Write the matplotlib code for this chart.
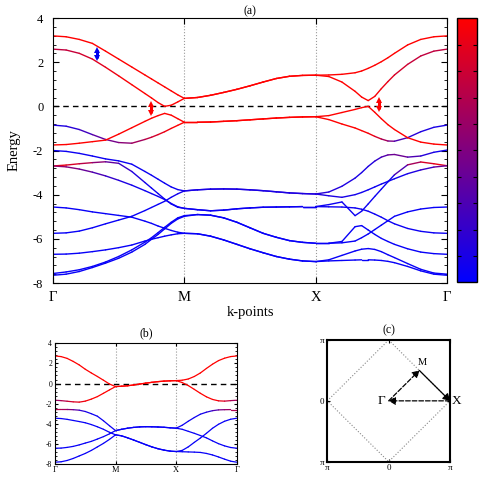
import numpy as np
import matplotlib
matplotlib.use('Agg')
import matplotlib.pyplot as plt
from matplotlib.collections import LineCollection
from matplotlib.colors import LinearSegmentedColormap
from matplotlib.ticker import MultipleLocator

plt.rcParams['font.family'] = ['Liberation Serif', 'DejaVu Serif']
plt.rcParams['axes.unicode_minus'] = False

# ---------------- panel (a) data ----------------
# k path: Gamma-M, M-X, X-Gamma
k_gm = [0, .1, .2, .3, .4, .5, .6, .7, .75, .8, .85, .9, .95, 1.0]
k_mx = [1.1, 1.2, 1.3, 1.4, 1.5, 1.6, 1.7, 1.8, 1.9, 2.0]
k_xg = [2.1, 2.2, 2.3, 2.35, 2.4, 2.45, 2.5, 2.55, 2.6, 2.7, 2.8, 2.9, 3.0]
k_a = k_gm + k_mx + k_xg

a_b1 = [3.19, 3.15, 3.03, 2.85, 2.5, 2.14, 1.78, 1.42, 1.24, 1.06, 0.88, 0.7, 0.52, 0.36] \
     + [0.4, 0.5, 0.63, 0.77, 0.93, 1.1, 1.26, 1.36, 1.4, 1.41] \
     + [1.42, 1.45, 1.52, 1.6, 1.72, 1.86, 2.02, 2.2, 2.4, 2.78, 3.03, 3.15, 3.19]
a_b2 = [2.59, 2.55, 2.4, 2.14, 1.77, 1.38, 0.98, 0.58, 0.38, 0.17, 0.0, 0.05, 0.2, 0.36] \
     + [0.4, 0.5, 0.63, 0.77, 0.93, 1.1, 1.26, 1.36, 1.4, 1.41] \
     + [1.35, 1.1, 0.68, 0.42, 0.26, 0.45, 0.8, 1.12, 1.42, 1.9, 2.28, 2.5, 2.59]
a_b3 = [-0.85, -0.9, -1.05, -1.28, -1.5, -1.64, -1.67, -1.5, -1.4, -1.28, -1.15, -1.0, -0.86, -0.72] \
     + [-0.72, -0.71, -0.68, -0.65, -0.61, -0.57, -0.53, -0.5, -0.48, -0.47] \
     + [-0.6, -0.8, -0.98, -1.1, -1.22, -1.36, -1.48, -1.57, -1.58, -1.42, -1.15, -0.95, -0.85]
a_b4 = [-1.75, -1.73, -1.67, -1.6, -1.53, -1.26, -0.97, -0.68, -0.54, -0.42, -0.32, -0.4, -0.56, -0.72] \
     + [-0.72, -0.71, -0.68, -0.65, -0.61, -0.57, -0.53, -0.5, -0.48, -0.47] \
     + [-0.42, -0.28, -0.14, -0.06, 0.0, -0.27, -0.56, -0.83, -1.05, -1.42, -1.62, -1.71, -1.75]
a_l1 = [-2.0, -2.04, -2.13, -2.25, -2.38, -2.47, -2.62, -2.95, -3.12, -3.3, -3.48, -3.65, -3.77, -3.83] \
     + [-3.78, -3.75, -3.74, -3.75, -3.78, -3.82, -3.87, -3.92, -3.95, -3.97] \
     + [-3.88, -3.62, -3.25, -3.0, -2.72, -2.48, -2.3, -2.2, -2.18, -2.3, -2.25, -2.08, -1.98]
a_l2 = [-2.7, -2.66, -2.6, -2.55, -2.51, -2.58, -2.95, -3.45, -3.7, -3.95, -4.2, -4.42, -4.57, -4.62] \
     + [-4.68, -4.73, -4.7, -4.64, -4.6, -4.57, -4.56, -4.55, -4.54, -4.54] \
     + [-4.45, -4.33, -4.95, -4.75, -4.42, -4.08, -3.75, -3.42, -3.1, -2.65, -2.52, -2.6, -2.69]
a_l3 = [-2.7, -2.74, -2.84, -2.98, -3.15, -3.35, -3.57, -3.82, -3.95, -4.08, -4.22, -4.4, -4.55, -4.62] \
     + [-4.68, -4.73, -4.7, -4.64, -4.6, -4.57, -4.56, -4.55, -4.54, -4.54] \
     + [-4.55, -4.56, -4.6, -4.66, -4.75, -4.88, -5.02, -5.18, -5.32, -5.53, -5.66, -5.73, -5.75]
a_l4 = [-4.56, -4.6, -4.68, -4.78, -4.86, -4.94, -5.02, -5.2, -5.3, -5.42, -5.52, -5.62, -5.7, -5.75] \
     + [-5.77, -5.88, -6.05, -6.25, -6.45, -6.63, -6.8, -6.92, -7.0, -7.03] \
     + [-6.95, -6.75, -6.55, -6.47, -6.44, -6.48, -6.58, -6.72, -6.85, -7.12, -7.38, -7.55, -7.6]
a_l5 = [-5.75, -5.73, -5.65, -5.5, -5.32, -5.15, -4.98, -4.72, -4.58, -4.44, -4.3, -4.12, -3.96, -3.83] \
     + [-3.78, -3.75, -3.74, -3.75, -3.78, -3.82, -3.87, -3.92, -3.95, -3.97] \
     + [-4.05, -4.12, -4.0, -3.9, -3.78, -3.65, -3.52, -3.4, -3.28, -3.05, -2.88, -2.75, -2.69]
a_l6 = [-6.7, -6.69, -6.65, -6.58, -6.5, -6.4, -6.28, -6.1, -6.02, -5.95, -5.88, -5.82, -5.77, -5.75] \
     + [-5.77, -5.88, -6.05, -6.25, -6.45, -6.63, -6.8, -6.92, -7.0, -7.03] \
     + [-7.0, -6.98, -6.96, -6.95, -6.95, -6.96, -6.98, -7.02, -7.08, -7.25, -7.45, -7.6, -7.65]
a_l7 = [-7.57, -7.5, -7.4, -7.25, -7.05, -6.8, -6.5, -6.15, -5.95, -5.72, -5.48, -5.25, -5.05, -4.95] \
     + [-4.9, -4.93, -5.05, -5.25, -5.5, -5.75, -5.93, -6.08, -6.16, -6.2] \
     + [-6.2, -6.12, -5.45, -5.4, -5.6, -5.8, -5.98, -6.12, -6.25, -6.45, -6.6, -6.67, -6.7]
a_l8 = [-7.65, -7.6, -7.48, -7.3, -7.1, -6.88, -6.6, -6.25, -6.02, -5.8, -5.55, -5.3, -5.1, -4.98] \
     + [-4.9, -4.93, -5.05, -5.25, -5.5, -5.75, -5.93, -6.08, -6.16, -6.2] \
     + [-6.2, -6.18, -6.1, -5.95, -5.78, -5.58, -5.38, -5.18, -4.98, -4.78, -4.65, -4.58, -4.56]

# orbital weight (0 = blue, 1 = red)
w_b1 = [1, 1, 1, 1, 1, 1, 1, 1, 1, 1, 1, 1, 1, 1] + [1, 1, 1, 1, 1, 1, 1, 1, 1, 1] \
     + [1, 1, 1, 1, 1, 1, 1, 1, 1, 1, 1, 1, 1]
w_b2 = [.75, .75, .8, .85, .9, .95, 1, 1, 1, 1, 1, 1, 1, 1] + [1, 1, 1, 1, 1, 1, 1, 1, 1, 1] \
     + [1, 1, 1, 1, 1, 1, .95, .9, .85, .8, .75, .75, .75]
w_b3 = [.1, .12, .2, .3, .42, .5, .58, .7, .78, .86, .92, .97, 1, 1] + [1, 1, 1, 1, 1, 1, 1, 1, 1, 1] \
     + [1, 1, 1, 1, .97, .9, .75, .55, .4, .2, .12, .1, .1]
w_b4 = [1, 1, 1, 1, 1, 1, 1, 1, 1, 1, 1, 1, 1, 1] + [1, 1, 1, 1, 1, 1, 1, 1, 1, 1] \
     + [1, 1, 1, 1, 1, 1, 1, 1, 1, 1, 1, 1, 1]
w_l1 = [.05, .05, .05, .05, .05, .05, .05, .05, .05, .05, .05, .05, .05, .08] \
     + [.1, .12, .13, .14, .15, .15, .15, .15, .15, .15] \
     + [.15, .12, .1, .1, .1, .15, .25, .4, .45, .4, .2, .08, .05]
w_l2 = [.95, .9, .8, .65, .45, .3, .15, .08, .05, .05, .05, .05, .05, .05] \
     + [.05, .05, .05, .05, .05, .05, .05, .05, .05, .05] \
     + [.05, .05, .05, .05, .05, .05, .05, .05, .1, .5, .8, .9, .95]
w_l3 = [.6, .55, .45, .35, .25, .15, .08, .05, .05, .05, .05, .05, .05, .05] \
     + [.05, .05, .05, .05, .05, .05, .05, .05, .05, .05] \
     + [.05, .05, .05, .05, .05, .05, .05, .05, .05, .05, .05, .05, .05]
w_l5 = [.03, .03, .03, .03, .03, .03, .03, .03, .03, .03, .03, .05, .08, .08] \
     + [.1, .1, .1, .1, .1, .1, .1, .12, .12, .12] \
     + [.12, .1, .08, .06, .05, .05, .05, .05, .05, .08, .15, .3, .5]
w_low = [.03, .03, .03, .03, .03, .03, .03, .03, .03, .03, .03, .03, .03, .03] \
      + [.03, .03, .03, .03, .03, .03, .03, .03, .03, .03] \
      + [.03, .03, .03, .03, .03, .03, .03, .03, .03, .03, .03, .03, .03]

bands_a = [(a_b1, w_b1), (a_b2, w_b2), (a_b3, w_b3), (a_b4, w_b4),
           (a_l1, w_l1), (a_l2, w_l2), (a_l3, w_l3), (a_l4, w_low),
           (a_l5, w_l5), (a_l6, w_low), (a_l7, w_low), (a_l8, w_low)]

# gap markers (k, lower E, upper E)
gap_blue = (0.335, 2.1, 2.64)
gap_red = [(0.745, -0.38, 0.18), (2.483, -0.22, 0.38)]

# ---------------- panel (b) data ----------------
k_b = [0, .1, .2, .3, .4, .5, .6, .7, .8, .9, 1.0,
       1.1, 1.2, 1.3, 1.4, 1.5, 1.6, 1.7, 1.8, 1.9, 2.0,
       2.1, 2.2, 2.3, 2.4, 2.5, 2.6, 2.7, 2.8, 2.9, 3.0]
b_1 = [2.74, 2.68, 2.5, 2.2, 1.85, 1.42, 1.05, 0.7, 0.33, -0.05, -0.3] \
    + [-0.27, -0.22, -0.14, -0.05, 0.04, 0.12, 0.19, 0.24, 0.27, 0.29] \
    + [0.33, 0.45, 0.7, 1.05, 1.5, 1.92, 2.28, 2.52, 2.68, 2.74]
b_2 = [-1.66, -1.7, -1.76, -1.82, -1.85, -1.75, -1.55, -1.3, -0.97, -0.63, -0.3] \
    + [-0.27, -0.22, -0.14, -0.05, 0.04, 0.12, 0.19, 0.24, 0.27, 0.29] \
    + [0.1, -0.2, -0.58, -0.97, -1.32, -1.58, -1.72, -1.75, -1.7, -1.66]
b_3 = [-2.59, -2.58, -2.58, -2.6, -2.65, -2.78, -3.0, -3.25, -3.7, -4.2, -4.68] \
    + [-4.55, -4.44, -4.36, -4.31, -4.29, -4.3, -4.32, -4.35, -4.4, -4.44] \
    + [-4.15, -3.75, -3.38, -3.05, -2.85, -2.7, -2.62, -2.6, -2.59, -2.59]
b_4 = [-3.45, -3.48, -3.56, -3.67, -3.78, -3.9, -4.08, -4.3, -4.55, -4.85, -5.1] \
    + [-5.2, -5.4, -5.62, -5.85, -6.08, -6.3, -6.48, -6.62, -6.72, -6.76] \
    + [-6.65, -6.3, -5.85, -5.42, -4.95, -4.45, -4.05, -3.75, -3.55, -3.45]
b_5 = [-6.43, -6.42, -6.35, -6.25, -6.1, -5.92, -5.75, -5.52, -5.28, -5.0, -4.68] \
    + [-4.55, -4.44, -4.36, -4.31, -4.29, -4.3, -4.32, -4.35, -4.4, -4.44] \
    + [-4.55, -4.75, -4.95, -5.17, -5.4, -5.7, -5.98, -6.2, -6.36, -6.43]
b_6 = [-7.82, -7.78, -7.65, -7.45, -7.2, -6.95, -6.65, -6.3, -5.95, -5.55, -5.1] \
    + [-5.2, -5.4, -5.62, -5.85, -6.08, -6.3, -6.48, -6.62, -6.72, -6.76] \
    + [-6.78, -6.8, -6.82, -6.85, -6.95, -7.1, -7.3, -7.52, -7.72, -7.82]

wb_1 = [1, 1, 1, 1, 1, 1, 1, 1, 1, 1, 1] + [1, 1, 1, 1, 1, 1, 1, 1, 1, 1] \
     + [1, 1, 1, 1, 1, 1, 1, 1, 1, 1]
wb_2 = [.6, .65, .75, .85, .9, .95, 1, 1, 1, 1, 1] + [1, 1, 1, 1, 1, 1, 1, 1, 1, 1] \
     + [1, 1, 1, 1, 1, 1, .95, .85, .7, .6]
wb_3 = [.75, .7, .6, .45, .25, .1, .05, .05, .05, .05, .05] \
     + [.05, .05, .05, .05, .05, .05, .05, .05, .05, .05] \
     + [.05, .05, .05, .05, .1, .2, .4, .55, .65, .72]
wb_low = [.03, .03, .03, .03, .03, .03, .03, .03, .03, .03, .03] \
       + [.03, .03, .03, .03, .03, .03, .03, .03, .03, .03] \
       + [.03, .03, .03, .03, .03, .03, .03, .03, .03, .03]

bands_b = [(b_1, wb_1), (b_2, wb_2), (b_3, wb_3), (b_4, wb_low), (b_5, wb_low), (b_6, wb_low)]

path_labels = ['Γ', 'M', 'X', 'Γ']

cmap = LinearSegmentedColormap.from_list('br', ['#0000ff', '#ff0000'])
norm = plt.Normalize(0, 1)


def draw_band(ax, k, e, w, lw=1.0):
    pts = np.column_stack([k, e])
    segs = np.stack([pts[:-1], pts[1:]], axis=1)
    w = np.asarray(w, dtype=float)
    lc = LineCollection(segs, cmap=cmap, norm=norm, linewidths=lw, capstyle='round')
    lc.set_array((w[:-1] + w[1:]) / 2)
    ax.add_collection(lc)


def setup_bands(ax, fs_y, fs_x, major_len, minor_len, pad_y, pad_x):
    ax.set_xlim(0, 3)
    ax.set_ylim(-8, 4)
    ax.set_xticks([0, 1, 2, 3])
    ax.set_xticklabels(path_labels)
    ax.set_yticks(range(-8, 5, 2))
    ax.yaxis.set_minor_locator(MultipleLocator(0.4))
    ax.tick_params(which='both', direction='in', top=True, right=True)
    ax.tick_params(which='major', length=major_len)
    ax.tick_params(which='minor', length=minor_len)
    ax.tick_params(axis='y', labelsize=fs_y, pad=pad_y)
    ax.tick_params(axis='x', labelsize=fs_x, pad=pad_x)
    for xv in (1, 2):
        ax.axvline(xv, color='#999999', ls=':', lw=0.8, zorder=0)
    ax.axhline(0, color='black', ls=(0, (4, 3)), lw=1.0, zorder=1)


def double_arrow(ax, x, y0, y1, color):
    # thick shaft with a triangular head at each end
    inset = 0.1
    ax.plot([x, x], [y0 + inset, y1 - inset], color=color, lw=2.2, solid_capstyle='butt', zorder=5)
    ax.plot([x], [y1 - 0.08], marker='^', ms=5, color=color, mew=0, zorder=5)
    ax.plot([x], [y0 + 0.08], marker='v', ms=5, color=color, mew=0, zorder=5)


fig = plt.figure(figsize=(4.85, 4.88), dpi=100)

# ---------------- (a) ----------------
ax = fig.add_axes([53 / 485, 1 - 283 / 488, 394 / 485, 265 / 488])
setup_bands(ax, 9, 10.5, 4, 2, 7, 6)
for e, w in bands_a:
    draw_band(ax, k_a, e, w, lw=1.0)

double_arrow(ax, *gap_blue, '#0000ee')
for g in gap_red:
    double_arrow(ax, *g, '#ff0000')

ax.set_title('(a)', fontsize=8.5, pad=3)
ax.set_xlabel('k-points', fontsize=10.5, labelpad=1)
ax.set_ylabel('Energy', fontsize=10.5, labelpad=9)

# colorbar
cax = fig.add_axes([457 / 485, 1 - 282.3 / 488, 20 / 485, 264 / 488])
sm = plt.cm.ScalarMappable(cmap=cmap, norm=norm)
cb = fig.colorbar(sm, cax=cax, ticks=np.linspace(0, 1, 11)[1:-1])
cb.ax.tick_params(direction='in', length=3, left=True, right=True, labelright=False, width=0.8)
cb.outline.set_linewidth(1.0)

# ---------------- (b) ----------------
axb = fig.add_axes([55 / 485, 1 - 464 / 488, 181.7 / 485, 120.7 / 488])
setup_bands(axb, 5.5, 6, 2.5, 1.3, 2, 1.5)
for e, w in bands_b:
    draw_band(axb, k_b, e, w, lw=0.9)
axb.set_title('(b)', fontsize=8.5, pad=5)

# ---------------- (c) ----------------
axc = fig.add_axes([327.3 / 485, 1 - 461.7 / 488, 122.7 / 485, 121.7 / 488])
pi = np.pi
axc.set_xlim(-pi, pi)
axc.set_ylim(-pi, pi)
axc.plot([0, pi, 0, -pi, 0], [pi, 0, -pi, 0, pi], ls=':', color='#888888', lw=0.8)
for s in axc.spines.values():
    s.set_linewidth(1.5)
axc.set_xticks([-pi, 0, pi])
axc.set_yticks([-pi, 0, pi])
axc.set_xticklabels(['π', '0', 'π'])
axc.set_yticklabels(['π', '0', 'π'])
axc.tick_params(direction='in', length=2, top=True, right=True, labelsize=6.5, pad=2)

gam = (0, 0)
mpt = (pi / 2, pi / 2)
xpt = (pi, 0)
head = '-|>,head_length=0.5,head_width=0.3'
axc.annotate('', xy=mpt, xytext=gam,
             arrowprops=dict(arrowstyle=head, ls='--', color='black', lw=0.9, mutation_scale=8,
                             shrinkA=0, shrinkB=0))
axc.annotate('', xy=xpt, xytext=mpt,
             arrowprops=dict(arrowstyle=head, color='black', lw=0.9, mutation_scale=8,
                             shrinkA=0, shrinkB=0))
axc.annotate('', xy=gam, xytext=xpt,
             arrowprops=dict(arrowstyle=head, ls='--', color='black', lw=0.9, mutation_scale=8,
                             shrinkA=0, shrinkB=0))
axc.text(-0.38, 0, 'Γ', fontsize=9.5, ha='center', va='center')
axc.text(1.7, 1.97, 'M', fontsize=7.5, ha='center', va='center')
axc.text(3.5, 0, 'X', fontsize=9.5, ha='center', va='center', clip_on=False)
axc.set_title('(c)', fontsize=8.5, pad=5)

fig.savefig('out.png', dpi=100)
